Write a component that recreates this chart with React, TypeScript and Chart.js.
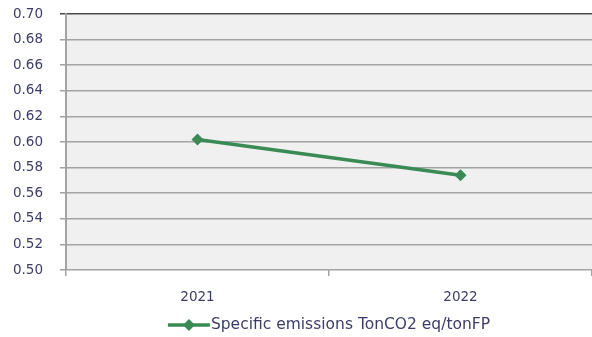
import React, { useEffect, useRef } from "react";
import { Chart, registerables } from "chart.js";

Chart.register(...registerables);

const categories = ["2021", "2022"];
const seriesLabel = "Specific emissions TonCO2 eq/tonFP";
const seriesValues = [0.602, 0.574];
const yMin = 0.5;
const yMax = 0.7;
const yStep = 0.02;

const TEXT = "#3b3d68";
const GREEN = "#3a8a56";
const GRID = "#a3a3a3";
const FONT = "'DejaVu Sans', sans-serif";
const FSIZE = 13.5;
const LEGEND_FSIZE = 15.5;

const bgPlugin = {
  id: "plotBg",
  beforeDraw(chart: any) {
    const { ctx, chartArea } = chart;
    if (!chartArea) return;
    ctx.save();
    ctx.fillStyle = "#f0f0f0";
    ctx.fillRect(chartArea.left, chartArea.top, chartArea.right - chartArea.left, chartArea.bottom - chartArea.top);
    ctx.restore();
  },
};

const legendPlugin = {
  id: "customLegend",
  afterDraw(chart: any) {
    const { ctx, chartArea, height } = chart;
    const ds = chart.data.datasets[0];
    ctx.save();
    ctx.font = `${LEGEND_FSIZE}px ${FONT}`;
    const textW = ctx.measureText(ds.label).width;
    const iconW = 42;
    const gap = 1;
    const total = iconW + gap + textW;
    const cx = (chartArea.left + chartArea.right) / 2;
    const x0 = cx - total / 2;
    const y = height - 12;
    ctx.strokeStyle = ds.borderColor;
    ctx.lineWidth = 3.5;
    ctx.beginPath();
    ctx.moveTo(x0, y);
    ctx.lineTo(x0 + iconW, y);
    ctx.stroke();
    ctx.fillStyle = ds.borderColor;
    ctx.beginPath();
    const dx = x0 + iconW / 2;
    ctx.moveTo(dx, y - 6);
    ctx.lineTo(dx + 6, y);
    ctx.lineTo(dx, y + 6);
    ctx.lineTo(dx - 6, y);
    ctx.closePath();
    ctx.fill();
    ctx.fillStyle = TEXT;
    ctx.textBaseline = "middle";
    ctx.textAlign = "left";
    ctx.fillText(ds.label, x0 + iconW + gap, y);
    ctx.restore();
  },
};

export default function App() {
  const ref = useRef<HTMLCanvasElement | null>(null);
  useEffect(() => {
    if (!ref.current) return;
    const chart = new Chart(ref.current, {
      type: "line",
      data: {
        labels: categories,
        datasets: [
          {
            label: seriesLabel,
            data: seriesValues,
            borderColor: GREEN,
            backgroundColor: GREEN,
            borderWidth: 3.5,
            pointStyle: "rectRot",
            pointRadius: 6,
            pointBackgroundColor: GREEN,
            pointBorderColor: GREEN,
            pointBorderWidth: 0,
            tension: 0,
          },
        ],
      },
      options: {
        animation: false,
        responsive: false,
        maintainAspectRatio: false,
        layout: { autoPadding: false, padding: { top: 14, right: 0, left: 0, bottom: 30 } },
        plugins: {
          tooltip: { enabled: false },
          legend: { display: false },
        },
        scales: {
          x: {
            offset: true,
            afterFit: (s: any) => {
              s.height = 37;
              s.paddingLeft = 0;
              s.paddingRight = 0;
            },
            grid: {
              offset: true,
              drawOnChartArea: false,
              drawTicks: true,
              tickLength: 6,
              color: GRID,
              lineWidth: 1.5,
            },
            border: { display: false },
            ticks: {
              color: TEXT,
              font: { family: FONT, size: FSIZE },
              padding: 13,
            },
          },
          y: {
            min: yMin,
            max: yMax,
            afterFit: (s: any) => {
              s.width = 66;
              s.paddingTop = 0;
              s.paddingBottom = 0;
            },
            afterBuildTicks: (s: any) => {
              const t = [];
              for (let i = 0; i <= Math.round((yMax - yMin) / yStep); i++) {
                t.push({ value: +(yMin + i * yStep).toFixed(2) });
              }
              s.ticks = t;
            },
            grid: {
              color: (c: any) => (c.tick && Math.abs(c.tick.value - yMax) < 1e-6 ? "#4a4a4a" : GRID),
              lineWidth: 1.5,
              tickLength: 6,
            },
            border: { display: true, color: GRID, width: 2 },
            ticks: {
              color: TEXT,
              font: { family: FONT, size: FSIZE },
              padding: 17,
              callback: (v: any) => Number(v).toFixed(2),
            },
          },
        },
      },
      plugins: [bgPlugin, legendPlugin],
    });
    return () => chart.destroy();
  }, []);
  return (
    <div style={{ position: "absolute", left: 0, top: 0, width: 592, height: 337, background: "#fff" }}>
      <canvas ref={ref} width={592} height={337} style={{ width: 592, height: 337 }} />
    </div>
  );
}
